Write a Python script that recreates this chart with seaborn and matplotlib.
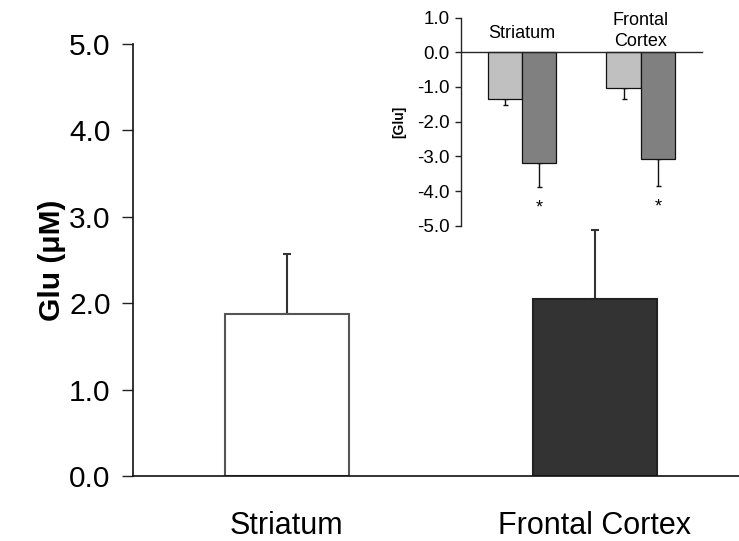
import matplotlib
matplotlib.use("Agg")
import matplotlib.pyplot as plt
import seaborn as sns
import pandas as pd

# Basal glutamate per region (main panel)
regions = ["Striatum", "Frontal Cortex"]
basal_glu = [1.87, 2.045]
basal_sem = [0.70, 0.80]
basal_colors = ["#ffffff", "#333333"]
main_yticks = [0.0, 1.0, 2.0, 3.0, 4.0, 5.0]

# Change in glutamate per region and condition (inset)
inset_groups = ["Striatum", "Frontal Cortex"]
inset_labels = ["Striatum", "Frontal\nCortex"]
conditions = ["Condition A", "Condition B"]
delta_glu_a = [-1.35, -1.04]
delta_glu_b = [-3.20, -3.08]
delta_sem_a = [0.18, 0.31]
delta_sem_b = [0.67, 0.77]
inset_colors = ["#c0c0c0", "#808080"]
inset_yticks = [1.0, 0.0, -1.0, -2.0, -3.0, -4.0, -5.0]
significant = [False, False, True, True]  # order: A-Str, A-FC, B-Str, B-FC

sns.set_theme(style="ticks")
plt.rcParams["font.family"] = ["Liberation Sans", "DejaVu Sans"]
plt.rcParams["text.color"] = "black"
plt.rcParams["axes.labelcolor"] = "black"
plt.rcParams["xtick.color"] = "black"
plt.rcParams["ytick.color"] = "black"

fig = plt.figure(figsize=(7.39, 5.41), dpi=100)

# ---------------- main panel ----------------
ax = fig.add_axes([0.1796, 0.120, 0.8204, 0.7986])
main_df = pd.DataFrame({"region": regions, "glu": basal_glu})
sns.barplot(data=main_df, x="region", y="glu", hue="region", order=regions,
            hue_order=regions, palette=basal_colors, legend=False,
            width=0.403, errorbar=None, ax=ax, zorder=2)
edge_cols = ["#555555", "#222222"]
for patch, ec in zip(ax.patches, edge_cols):
    patch.set_edgecolor(ec)
    patch.set_linewidth(1.5)

bar_x = [p.get_x() + p.get_width() / 2 for p in ax.patches]
ax.errorbar(bar_x, basal_glu, yerr=[[0] * len(basal_sem), basal_sem],
            fmt="none", ecolor="#333333", elinewidth=1.5, capsize=3.2,
            capthick=1.5, zorder=1)

ax.set_ylim(0, 5)
ax.set_xlim(-0.5, 1.468)
ax.set_yticks(main_yticks)
ax.set_yticklabels([f"{v:.1f}" for v in main_yticks], fontsize=21.5)
ax.tick_params(axis="y", length=8, width=1, pad=8, color="#222222")
ax.tick_params(axis="x", length=0, pad=25, labelsize=22)
ax.set_xlabel("")
ax.set_ylabel("Glu (μM)", fontsize=21.5, fontweight="bold", labelpad=2)
for s in ["top", "right"]:
    ax.spines[s].set_visible(False)
for s in ["left", "bottom"]:
    ax.spines[s].set_linewidth(1.2)
    ax.spines[s].set_color("#111111")

# ---------------- inset ----------------
ins = fig.add_axes([0.6238, 0.5826, 0.326, 0.385])
inset_df = pd.DataFrame({
    "region": inset_groups * 2,
    "condition": [conditions[0]] * 2 + [conditions[1]] * 2,
    "delta": delta_glu_a + delta_glu_b,
})
sns.barplot(data=inset_df, x="region", y="delta", hue="condition",
            order=inset_groups, hue_order=conditions, palette=inset_colors,
            width=0.58, errorbar=None, legend=False, ax=ins, zorder=2)
for patch in ins.patches:
    patch.set_edgecolor("#111111")
    patch.set_linewidth(0.9)

ins_x = [p.get_x() + p.get_width() / 2 for p in ins.patches]
ins_vals = delta_glu_a + delta_glu_b
ins_err = delta_sem_a + delta_sem_b
ins.errorbar(ins_x, ins_vals, yerr=[ins_err, [0] * len(ins_err)],
             fmt="none", ecolor="#111111", elinewidth=1.0, capsize=1.8,
             capthick=1.0, zorder=1)
for x, v, e, sig in zip(ins_x, ins_vals, ins_err, significant):
    if sig:
        ins.text(x, v - e - 0.62, "*", ha="center", va="center", fontsize=13)

# region names sit above the zero line
label_y = [0.55, 0.62]
for x, lab, ly in zip(range(len(inset_groups)), inset_labels, label_y):
    ins.text(x, ly, lab, ha="center", va="center", fontsize=13,
             multialignment="center", linespacing=1.3)

ins.set_ylim(-5, 1)
ins.set_xlim(-0.513, 1.513)
ins.set_yticks(inset_yticks)
ins.set_yticklabels([f"{v:.1f}" for v in inset_yticks], fontsize=13.5)
ins.tick_params(axis="y", length=4, width=1, pad=4, color="#222222")
ins.set_xticks([])
ins.set_xlabel("")
ins.set_ylabel("[Glu]", fontsize=10, fontweight="bold", labelpad=8)
ins.spines["top"].set_visible(False)
ins.spines["right"].set_visible(False)
ins.spines["bottom"].set_position(("data", 0))
ins.spines["bottom"].set_linewidth(1.0)
ins.spines["left"].set_linewidth(1.0)
ins.patch.set_alpha(0)

fig.savefig("out.png", dpi=100)
